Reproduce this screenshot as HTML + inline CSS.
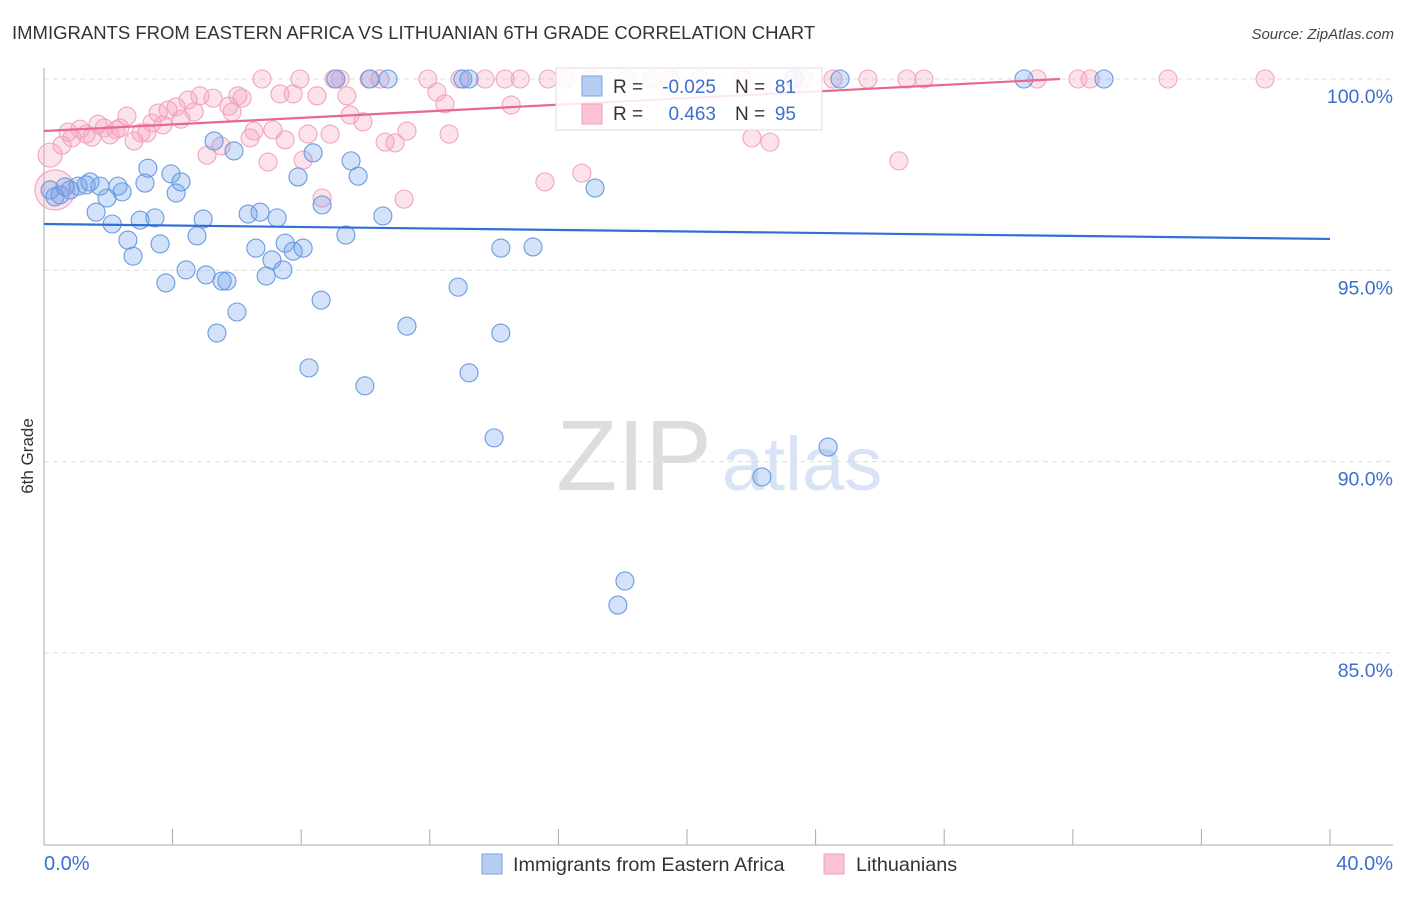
<!DOCTYPE html>
<html><head><meta charset="utf-8"><style>
body{margin:0;background:#fff;font-family:"Liberation Sans",sans-serif}
svg text{font-family:"Liberation Sans",sans-serif}
</style></head><body>
<svg id="c" width="1406" height="892" xmlns="http://www.w3.org/2000/svg">
<text x="12" y="39" font-size="18.5" fill="#333">IMMIGRANTS FROM EASTERN AFRICA VS LITHUANIAN 6TH GRADE CORRELATION CHART</text>
<text x="1394" y="39" font-size="15" fill="#444" text-anchor="end" font-style="italic">Source: ZipAtlas.com</text>
<text transform="translate(33,456) rotate(-90)" font-size="17" fill="#333" text-anchor="middle">6th Grade</text>
<g>
<text x="634" y="490" font-size="100" fill="#ddd" font-family="Liberation Serif" text-anchor="middle">ZIP</text>
<text x="802" y="490" font-size="76" fill="#d8e4f5" text-anchor="middle">atlas</text>
</g>
<g id="grid"></g><g id="pts"></g><g id="lines"></g>
<g>
<rect x="556" y="68" width="266" height="62" fill="#fff" fill-opacity="0.85" stroke="#ddd"/>
<rect x="582" y="76" width="20" height="20" fill="#b5cdf3" stroke="#7ba3e6"/>
<rect x="582" y="104" width="20" height="20" fill="#f9c3d3" stroke="#f0a0b8"/>
<text x="613" y="93" font-size="19" fill="#333">R =</text><text x="716" y="93" font-size="19" fill="#3b6fd1" text-anchor="end">-0.025</text>
<text x="735" y="93" font-size="19" fill="#333">N =</text><text x="796" y="93" font-size="19" fill="#3b6fd1" text-anchor="end">81</text>
<text x="613" y="120" font-size="19" fill="#333">R =</text><text x="716" y="120" font-size="19" fill="#3b6fd1" text-anchor="end">0.463</text>
<text x="735" y="120" font-size="19" fill="#333">N =</text><text x="796" y="120" font-size="19" fill="#3b6fd1" text-anchor="end">95</text>
</g>
<g>
<rect x="482" y="854" width="20" height="20" fill="#b5cdf3" stroke="#7ba3e6"/>
<text x="513" y="871" font-size="19.8" fill="#333">Immigrants from Eastern Africa</text>
<rect x="824" y="854" width="20" height="20" fill="#f9c3d3" stroke="#f0a0b8"/>
<text x="856" y="871" font-size="19.8" fill="#333">Lithuanians</text>
</g>
</svg>
<script>
const yTicks=[100,95,90,85];
const xTickLabels=["0.0%","40.0%"];
const blueX=[0.19,0.34,0.50,0.65,0.81,1.06,1.31,1.43,1.62,1.74,1.96,2.12,2.30,2.43,2.61,2.77,2.99,3.14,3.23,3.45,3.61,3.79,3.95,4.11,4.26,4.42,4.76,4.95,5.04,5.29,5.38,5.54,5.69,5.91,6.00,6.35,6.59,6.72,6.91,7.09,7.25,7.43,7.50,7.75,7.90,8.06,8.24,8.37,8.62,8.65,9.08,9.39,9.55,9.77,9.98,10.14,10.54,10.70,11.29,12.88,13.03,13.22,13.22,14.00,14.21,14.21,15.21,17.14,17.85,18.07,22.33,23.33,24.39,24.76,30.48,32.97];
const blueY=[97.10,96.92,96.97,97.18,97.10,97.20,97.23,97.31,96.52,97.20,96.89,96.21,97.20,97.05,95.79,95.37,96.31,97.28,97.67,96.37,95.69,94.67,97.52,97.02,97.31,95.01,95.90,96.34,94.88,98.38,93.36,94.72,94.72,98.12,93.91,96.47,95.58,96.52,94.85,95.27,96.37,95.01,95.71,95.50,97.44,95.58,92.45,98.07,94.22,96.71,100,95.92,97.86,97.46,91.98,100,96.42,100,93.54,94.56,100,100,92.32,90.62,95.58,93.36,95.61,97.15,86.25,86.88,89.60,100,90.38,100,100,100];
const pinkX=[0.19,0.34,0.56,0.75,0.87,1.12,1.31,1.49,1.68,1.87,2.05,2.24,2.36,2.58,2.80,3.02,3.20,3.36,3.55,3.70,3.86,4.11,4.26,4.48,4.67,4.85,5.07,5.26,5.51,5.75,5.85,6.03,6.16,6.41,6.53,6.78,6.97,7.12,7.34,7.50,7.75,7.96,8.06,8.21,8.49,8.65,8.90,9.02,9.21,9.42,9.52,9.92,10.11,10.45,10.61,10.92,11.20,11.29,11.94,12.22,12.47,12.60,12.94,13.72,14.34,14.53,14.81,15.58,15.68,16.21,16.73,16.98,18.13,18.91,19.47,20.40,21.71,22.02,22.58,23.61,24.54,25.63,26.59,26.84,27.37,30.89,32.16,32.54,34.96,37.98];
const pinkY=[98.01,97.10,98.27,98.61,98.46,98.69,98.56,98.48,98.82,98.72,98.54,98.67,98.72,99.03,98.38,98.59,98.59,98.85,99.11,98.80,99.19,99.27,98.95,99.45,99.14,99.56,98.01,99.50,98.25,99.29,99.14,99.56,99.50,98.46,98.64,100,97.83,98.67,99.61,98.41,99.61,100,97.88,98.56,99.56,96.89,98.56,100,100,99.56,99.06,98.88,100,100,98.35,98.33,96.86,98.64,100,99.66,99.35,98.56,100,100,100,99.32,100,97.31,100,100,97.54,100,100,100,100,100,100,98.46,98.35,100,100,100,97.86,100,100,100,100,100,100,100];
const blueTrend=[[0,96.21],[40,95.82]];
const pinkTrend=[[0,98.64],[31.6,100]];
const X=v=>44+v/40*1286, Y=v=>79+(100-v)/5*191.3;
const NS="http://www.w3.org/2000/svg";
function mk(t,a,p){const e=document.createElementNS(NS,t);for(const k in a)e.setAttribute(k,a[k]);p.appendChild(e);return e;}
const g=document.getElementById('grid');
yTicks.forEach(t=>{
 const l=mk('line',{x1:44,x2:1393,y1:Y(t),y2:Y(t),stroke:'#ddd','stroke-dasharray':'5,4'},g);
 
 
 const tx=mk('text',{x:1393,y:Y(t)+24,'font-size':19.5,fill:'#3b6fd1','text-anchor':'end'},g);
 tx.textContent=t.toFixed(1)+'%';
 
 
});
const ax=mk('line',{x1:44,x2:44,y1:68,y2:845,stroke:'#aaa'},g);


const bx=mk('line',{x1:44,x2:1393,y1:845,y2:845,stroke:'#aaa'},g);


for(let v=0;v<=40;v+=4){
 const t=mk('line',{x1:X(v),x2:X(v),y1:829,y2:845,stroke:'#aaa'},g);
 
 
}
[[0,'start',44],[40,'end',1393]].forEach((d,i)=>{
 const t=mk('text',{x:d[2],y:870,'font-size':20,fill:'#3b6fd1','text-anchor':d[1]},g);
 t.textContent=xTickLabels[i];
 
 
});
const p=document.getElementById('pts');
pinkX.forEach((x,i)=>{
 const c=mk('circle',{cx:X(x),cy:Y(pinkY[i]),r:i==0?12:(i==1?20:9),fill:'rgba(244,160,188,0.3)',stroke:'#f2a5bd','stroke-width':1.1},p);
 
 
});
blueX.forEach((x,i)=>{
 const c=mk('circle',{cx:X(x),cy:Y(blueY[i]),r:9,fill:'rgba(110,160,235,0.3)',stroke:'#6a9ae0','stroke-width':1.1},p);
 
 
});
const L=document.getElementById('lines');
const bl=mk('line',{x1:X(blueTrend[0][0]),y1:Y(blueTrend[0][1]),x2:X(blueTrend[1][0]),y2:Y(blueTrend[1][1]),stroke:'#2f6fd6','stroke-width':2.2},L);


const pl=mk('line',{x1:X(pinkTrend[0][0]),y1:Y(pinkTrend[0][1]),x2:X(pinkTrend[1][0]),y2:Y(pinkTrend[1][1]),stroke:'#e8688f','stroke-width':2.2},L);


</script>
</body></html>
